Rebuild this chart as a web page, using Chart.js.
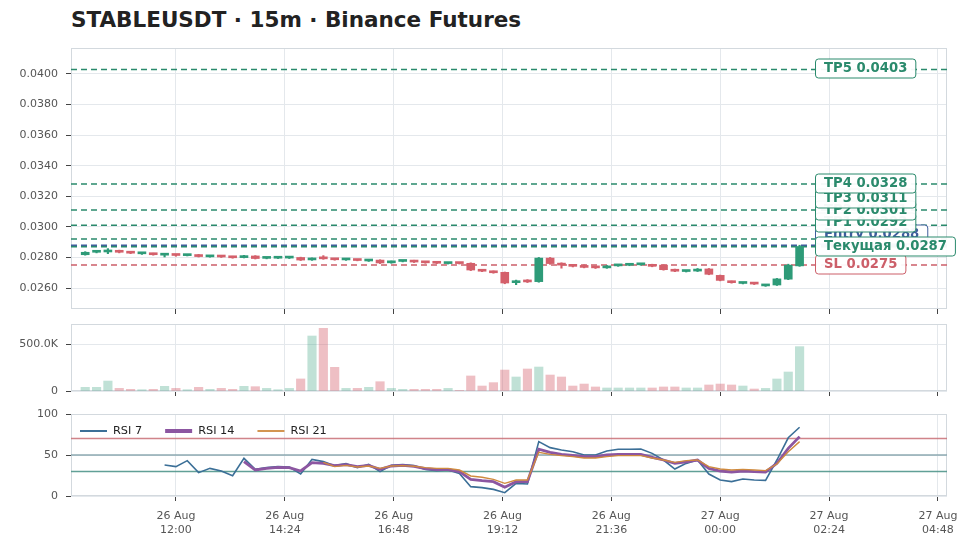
<!DOCTYPE html>
<html>
<head>
<meta charset="utf-8">
<script src="https://cdn.jsdelivr.net/npm/chart.js@4.4.0/dist/chart.umd.min.js"></script>
<style>
html, body { margin: 0; padding: 0; background: #fff; }
#wrap { position: relative; width: 973px; height: 548px; overflow: hidden; font-family: "DejaVu Sans", sans-serif; }
#title { position: absolute; left: 71px; top: 7px; font-size: 21.5px; font-weight: bold; color: #222; white-space: nowrap; }
canvas { position: absolute; left: 0; }
#priceChart { top: 40px; }
#volChart { top: 316px; }
#rsiChart { top: 406px; }
</style>
</head>
<body>
<div id="wrap">
  <div id="title">STABLEUSDT · 15m · Binance Futures</div>
  <canvas id="priceChart" width="973" height="275"></canvas>
  <canvas id="volChart" width="973" height="81"></canvas>
  <canvas id="rsiChart" width="973" height="142"></canvas>
</div>
<script>
// ---- data -------------------------------------------------------------
const candleTimes = [
  '10:00','10:15','10:30','10:45','11:00','11:15','11:30','11:45',
  '12:00','12:15','12:30','12:45','13:00','13:15','13:30','13:45',
  '14:00','14:15','14:30','14:45','15:00','15:15','15:30','15:45',
  '16:00','16:15','16:30','16:45','17:00','17:15','17:30','17:45',
  '18:00','18:15','18:30','18:45','19:00','19:15','19:30','19:45',
  '20:00','20:15','20:30','20:45','21:00','21:15','21:30','21:45',
  '22:00','22:15','22:30','22:45','23:00','23:15','23:30','23:45',
  '00:00','00:15','00:30','00:45','01:00','01:15','01:30','01:45'
];
const opens = [
  0.02818,0.02834,0.02836,0.02843,0.02834,0.02824,0.02826,0.02815,
  0.02817,0.02812,0.02818,0.02804,0.02806,0.02806,0.02799,0.02810,
  0.02794,0.02795,0.02796,0.02800,0.02784,0.02797,0.02792,0.02784,
  0.02786,0.02777,0.02783,0.02765,0.02774,0.02779,0.02771,0.02769,
  0.02760,0.02762,0.02762,0.02718,0.02710,0.02703,0.02635,0.02643,
  0.02642,0.02796,0.02762,0.02752,0.02748,0.02738,0.02732,0.02745,
  0.02749,0.02752,0.02754,0.02750,0.02722,0.02708,0.02711,0.02725,
  0.02683,0.02643,0.02630,0.02633,0.02614,0.02620,0.02658,0.02745
];
const highs = [
  0.02838,0.02842,0.02858,0.02848,0.02836,0.02830,0.02828,0.02819,
  0.02820,0.02817,0.02820,0.02808,0.02808,0.02808,0.02814,0.02812,
  0.02799,0.02800,0.02801,0.02802,0.02797,0.02812,0.02794,0.02789,
  0.02788,0.02782,0.02785,0.02777,0.02781,0.02782,0.02773,0.02772,
  0.02765,0.02765,0.02765,0.02721,0.02712,0.02705,0.02652,0.02655,
  0.02800,0.02800,0.02765,0.02755,0.02752,0.02740,0.02748,0.02753,
  0.02755,0.02757,0.02756,0.02752,0.02724,0.02714,0.02728,0.02728,
  0.02685,0.02646,0.02635,0.02636,0.02620,0.02663,0.02756,0.02880
];
const lows = [
  0.02815,0.02830,0.02825,0.02830,0.02825,0.02820,0.02815,0.02803,
  0.02808,0.02810,0.02803,0.02802,0.02800,0.02795,0.02797,0.02790,
  0.02791,0.02793,0.02793,0.02780,0.02781,0.02788,0.02782,0.02781,
  0.02778,0.02774,0.02760,0.02762,0.02771,0.02767,0.02762,0.02760,
  0.02757,0.02757,0.02714,0.02707,0.02697,0.02628,0.02622,0.02636,
  0.02638,0.02755,0.02730,0.02738,0.02732,0.02728,0.02729,0.02742,
  0.02746,0.02749,0.02739,0.02717,0.02707,0.02705,0.02708,0.02687,
  0.02647,0.02632,0.02627,0.02623,0.02611,0.02617,0.02655,0.02742
];
const closes = [
  0.02834,0.02838,0.02843,0.02834,0.02828,0.02826,0.02818,0.02817,
  0.02813,0.02814,0.02806,0.02806,0.02803,0.02798,0.02810,0.02793,
  0.02796,0.02797,0.02798,0.02783,0.02794,0.02791,0.02785,0.02786,
  0.02780,0.02779,0.02764,0.02774,0.02778,0.02770,0.02765,0.02762,
  0.02762,0.02760,0.02718,0.02710,0.02700,0.02633,0.02642,0.02640,
  0.02796,0.02760,0.02750,0.02742,0.02735,0.02732,0.02745,0.02750,
  0.02752,0.02754,0.02742,0.02720,0.02710,0.02711,0.02713,0.02690,
  0.02650,0.02635,0.02632,0.02626,0.02617,0.02660,0.02750,0.02872
];
const volumes = [
  39000,39000,106000,28000,18000,14000,18000,50000,
  28000,14000,39000,18000,28000,18000,50000,46000,
  28000,14000,28000,128000,585000,667000,252000,28000,
  28000,39000,99000,28000,18000,18000,18000,18000,
  28000,7000,160000,53000,89000,223000,149000,234000,
  255000,170000,149000,53000,74000,43000,32000,32000,
  32000,32000,32000,43000,43000,32000,32000,64000,
  74000,64000,53000,21000,28000,128000,202000,472000
];
const rsi7 = [
  null,null,null,null,null,null,null,37.8,
  35.8,43.1,28.5,33.7,30.5,24.8,45.9,32.5,
  34.6,35.8,35.4,26.8,44.7,41.9,37.0,39.4,
  34.6,38.6,29.7,37.4,38.2,37.0,32.5,30.9,
  31.7,27.6,11.4,10.2,8.1,4.0,15.4,14.6,
  66.3,59.0,56.0,54.0,50.0,50.0,54.9,57.0,
  57.0,57.3,52.0,43.9,32.9,39.8,43.9,26.8,
  19.5,17.5,20.7,19.5,19.1,43.9,71.0,83.8
];
const rsi14 = [
  null,null,null,null,null,null,null,null,
  null,null,null,null,null,null,41.9,31.7,
  33.7,35.0,34.6,30.5,40.7,39.8,37.0,38.2,
  35.8,37.4,32.5,36.6,37.4,36.2,33.3,32.1,
  32.1,29.7,20.3,18.7,17.5,10.6,17.5,17.5,
  57.0,53.3,50.8,49.6,48.0,48.0,50.0,50.8,
  50.8,50.8,47.2,43.9,39.8,41.5,43.9,33.7,
  30.5,29.3,30.5,29.7,29.3,39.8,58.1,72.4
];
const rsi21 = [
  null,null,null,null,null,null,null,null,
  null,null,null,null,null,null,null,null,
  null,null,null,null,null,41.0,35.8,37.4,
  35.4,36.6,33.7,36.6,37.0,36.2,34.6,33.7,
  33.7,31.7,24.4,22.8,20.3,15.4,19.5,19.5,
  53.3,50.8,49.2,48.0,46.3,46.3,48.0,49.2,
  49.2,49.2,46.3,43.9,41.0,43.1,43.9,35.8,
  32.9,31.7,32.5,31.7,30.9,39.0,54.0,66.3
];
const rsiNames = ['RSI 7', 'RSI 14', 'RSI 21'];
const rsiLevels = [70, 50, 30];

// price levels, in the order their labels are drawn
const levelNames  = ['SL', 'Entry', 'TP1', 'TP2', 'TP3', 'TP4', 'TP5', 'Текущая'];
const levelValues = [0.0275, 0.0288, 0.0292, 0.0301, 0.0311, 0.0328, 0.0403, 0.0287];

const xTickLabels = ['26 Aug 12:00','26 Aug 14:24','26 Aug 16:48','26 Aug 19:12',
                     '26 Aug 21:36','27 Aug 00:00','27 Aug 02:24','27 Aug 04:48'];
const priceTicks = [0.026, 0.028, 0.030, 0.032, 0.034, 0.036, 0.038, 0.040];
const volTicks = [0, 500000];
const rsiTicks = [0, 50, 100];

// ---- helpers ----------------------------------------------------------
// minutes counted from 26 Aug 00:00
const toMin = s => { const p = s.split(':'); return +p[0] * 60 + +p[1]; };
let dayOff = 0, prevT = -1;
const xs = candleTimes.map(t => {
  let m = toMin(t);
  if (m < prevT) dayOff += 1440;
  prevT = m;
  return m + dayOff;
});
const xTickVals = xTickLabels.map(s => {
  const p = s.split(' ');
  return (+p[0] - 26) * 1440 + toMin(p[2]);
});

const X_MIN = 581.2, X_MAX = 1740;
const GREEN = '#2e9b78', RED = '#d4606b';
const GRID = '#e4e8ec', FRAME = '#d3d9de', TICKC = '#444', LABELC = '#555';
const levelColors = { SL: '#cc5f69', Entry: '#3f5e9c', 'Текущая': '#2a8a6c' };
const levelColor = n => levelColors[n] || '#2a8a6c';
const rsiColors = ['#3b6f97', '#8c56a1', '#cf8a3e'];
const rsiWidths = [1.6, 2.8, 1.4];
const rsiLevelColors = ['rgba(200,110,118,0.85)', 'rgba(130,160,170,0.9)', 'rgba(80,150,140,0.9)'];

Chart.defaults.font.family = '"DejaVu Sans", sans-serif';
Chart.defaults.animation = false;

const up = xs.map((x, i) => closes[i] >= opens[i]);

function xAxis(showLabels) {
  return {
    type: 'linear', min: X_MIN, max: X_MAX, offset: false,
    afterBuildTicks: s => { s.ticks = xTickVals.map(v => ({ value: v })); },
    afterFit: s => { s.height = showLabels ? 52 : 6; },
    grid: { color: GRID, tickColor: TICKC, tickLength: 5, tickWidth: 1, offset: false },
    border: { display: false },
    ticks: {
      display: showLabels, color: LABELC, font: { size: 11, lineHeight: 1.27 }, padding: 8, maxRotation: 0,
      callback: v => {
        const k = xTickVals.indexOf(v);
        if (k < 0) return '';
        const p = xTickLabels[k].split(' ');
        return [p[0] + ' ' + p[1], p[2]];
      }
    }
  };
}
function yAxis(min, max, tickVals, fmt) {
  return {
    min: min, max: max,
    afterBuildTicks: s => { s.ticks = tickVals.map(v => ({ value: v })); },
    afterFit: s => { s.width = 71; s.paddingTop = 0; s.paddingBottom = 0; },
    grid: { color: GRID, tickColor: TICKC, tickLength: 5 },
    border: { display: false },
    ticks: { color: LABELC, font: { size: 11 }, padding: 8, callback: fmt }
  };
}
const framePlugin = {
  id: 'frame',
  beforeDatasetsDraw(chart) {
    const a = chart.chartArea, c = chart.ctx;
    c.save();
    c.strokeStyle = FRAME; c.lineWidth = 1;
    c.strokeRect(a.left + 0.5, a.top + 0.5, a.right - a.left - 1, a.bottom - a.top - 1);
    c.restore();
  }
};
const layout = { padding: { top: 8, right: 26, left: 0, bottom: 0 } };
const common = {
  responsive: false, animation: false, layout: layout,
  plugins: { legend: { display: false }, tooltip: { enabled: false } }
};

// ---- price chart --------------------------------------------------------
// labels sit on their line, but are pushed up so they keep a minimum gap
const LABEL_GAP = 12;
const levelLabels = {
  id: 'levelLabels',
  afterDraw(chart) {
    const c = chart.ctx, ys = chart.scales.y, a = chart.chartArea;
    const pos = [];
    const byValue = levelValues.map((v, k) => k).sort((p, q) => levelValues[p] - levelValues[q]);
    let prev = Infinity;
    byValue.forEach(k => {
      const y = Math.min(ys.getPixelForValue(levelValues[k]), prev - LABEL_GAP);
      pos[k] = y; prev = y;
    });
    c.save();
    c.font = 'bold 13.2px "DejaVu Sans"';
    c.textBaseline = 'middle';
    levelNames.forEach((n, k) => {
      const v = levelValues[k];
      const y = Math.round(pos[k] - 1) + 0.5;
      const txt = n + ' ' + v.toFixed(4);
      const w = c.measureText(txt).width + 17, h = 19, x = a.left + 744.5;
      c.beginPath();
      c.roundRect(x, y - h / 2, w, h, 3);
      c.fillStyle = 'rgba(255,255,255,0.95)';
      c.fill();
      c.strokeStyle = levelColor(n); c.lineWidth = 1;
      c.stroke();
      c.fillStyle = levelColor(n);
      c.fillText(txt, x + 8.5, y + 0.5);
    });
    c.restore();
  }
};

const levelSets = levelNames.map((n, k) => ({
  type: 'line',
  data: [{ x: X_MIN, y: levelValues[k] }, { x: X_MAX, y: levelValues[k] }],
  borderColor: levelColor(n), borderWidth: 1.5, borderDash: [6, 4],
  pointRadius: 0, order: n === 'Entry' ? 3 : 2
}));

new Chart(document.getElementById('priceChart'), {
  type: 'bar',
  data: {
    datasets: [
      {
        data: xs.map((x, i) => ({ x: x, y: [opens[i], closes[i]] })),
        backgroundColor: up.map(u => u ? GREEN : RED),
        barThickness: 8, minBarLength: 2, grouped: false, order: 0
      },
      {
        data: xs.map((x, i) => ({ x: x, y: [lows[i], highs[i]] })),
        backgroundColor: up.map(u => u ? GREEN : RED),
        barThickness: 1.5, grouped: false, order: 1
      }
    ].concat(levelSets)
  },
  options: Object.assign({}, common, {
    scales: {
      x: xAxis(false),
      y: yAxis(0.02463, 0.0417, priceTicks, v => v.toFixed(4))
    }
  }),
  plugins: [framePlugin, levelLabels]
});

// ---- volume chart -------------------------------------------------------
new Chart(document.getElementById('volChart'), {
  type: 'bar',
  data: {
    datasets: [{
      data: xs.map((x, i) => ({ x: x, y: volumes[i] })),
      backgroundColor: up.map(u => u ? 'rgba(46,155,120,0.3)' : 'rgba(212,96,107,0.4)'),
      barThickness: 8.5
    }]
  },
  options: Object.assign({}, common, {
    scales: {
      x: xAxis(false),
      y: yAxis(0, 712800, volTicks, v => v === 0 ? '0' : (v / 1000).toFixed(1) + 'K')
    }
  }),
  plugins: [framePlugin]
});

// ---- RSI chart ----------------------------------------------------------
const rsiSeries = [rsi7, rsi14, rsi21];
const rsiLegend = {
  id: 'rsiLegend',
  afterDraw(chart) {
    const c = chart.ctx, a = chart.chartArea;
    c.save();
    c.font = '11.3px "DejaVu Sans"';
    c.textBaseline = 'middle';
    let x = a.left + 9;
    const y = a.top + 17;
    rsiNames.forEach((n, k) => {
      c.strokeStyle = rsiColors[k];
      c.lineWidth = k === 1 ? 4 : rsiWidths[k] + 0.4;
      c.beginPath(); c.moveTo(x, y); c.lineTo(x + 27, y); c.stroke();
      c.fillStyle = '#222';
      c.fillText(n, x + 33, y + 0.5);
      x += 33 + c.measureText(n).width + 23;
    });
    c.restore();
  }
};
new Chart(document.getElementById('rsiChart'), {
  type: 'line',
  data: {
    datasets: rsiSeries.map((s, k) => ({
      data: xs.map((x, i) => ({ x: x, y: s[i] })),
      borderColor: rsiColors[k], borderWidth: rsiWidths[k],
      pointRadius: 0, tension: 0, spanGaps: false, order: 2 - k
    })).concat(rsiLevels.map((v, k) => ({
      data: [{ x: X_MIN, y: v }, { x: X_MAX, y: v }],
      borderColor: rsiLevelColors[k], borderWidth: 1.5,
      pointRadius: 0, order: 5
    })))
  },
  options: Object.assign({}, common, {
    scales: {
      x: xAxis(true),
      y: yAxis(0, 100, rsiTicks, v => String(v))
    }
  }),
  plugins: [framePlugin, rsiLegend]
});
</script>
</body>
</html>
